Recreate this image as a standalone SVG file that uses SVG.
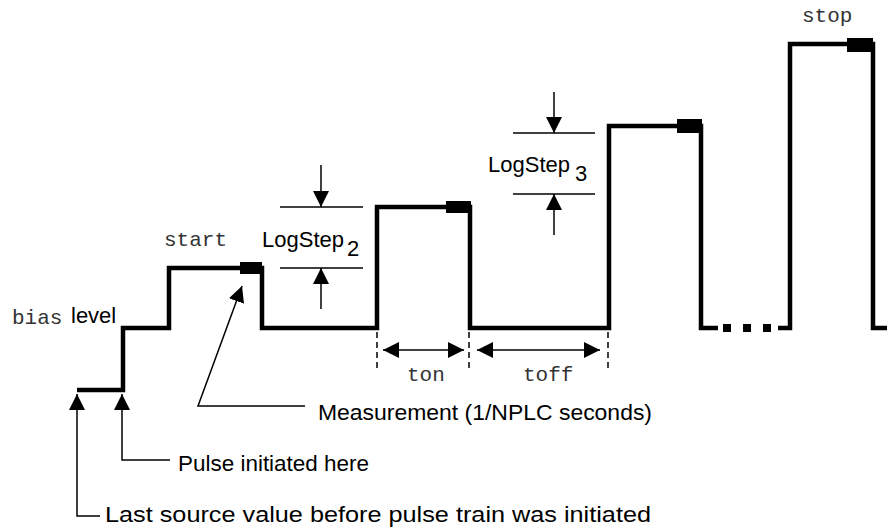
<svg xmlns="http://www.w3.org/2000/svg" width="887" height="531" viewBox="0 0 887 531">
<style>
.wave{fill:none;stroke:#000;stroke-width:4.5;stroke-linejoin:miter;stroke-linecap:butt}
.thin{fill:none;stroke:#000;stroke-width:1.5}
.dash{fill:none;stroke:#000;stroke-width:1.5;stroke-dasharray:6 4}
.blk{fill:#000}
.sans{font-family:"Liberation Sans",Arial,sans-serif;font-size:22px;fill:#000}
.mono{font-family:"Liberation Mono","Courier New",monospace;font-size:21px;fill:#333}
</style>
<defs>
<marker id="ah" viewBox="0 0 16 16" refX="16" refY="8" markerWidth="16" markerHeight="16" markerUnits="userSpaceOnUse" orient="auto-start-reverse">
<path d="M0,0 L16,8 L0,16 z" fill="#000"/>
</marker>
</defs>
<rect width="887" height="531" fill="#fff"/>
<g id="waveform">
<path class="wave" d="M77,390 H123 V328 H169 V268 H262 V328 H377 V207 H470 V328 H609 V126 H701 V328 H718"/>
<rect class="blk" x="723" y="324" width="8" height="8"/>
<rect class="blk" x="743" y="324" width="8" height="8"/>
<rect class="blk" x="763" y="324" width="8" height="8"/>
<path class="wave" d="M778,328 H790 V44 H873 V328 H887"/>
<rect class="blk" x="240" y="262" width="22" height="12"/>
<rect class="blk" x="446" y="201" width="25" height="12"/>
<rect class="blk" x="677" y="119" width="25" height="14"/>
<rect class="blk" x="847" y="38" width="26" height="14"/>
</g>
<g id="connectors">
<line class="thin" x1="321" y1="165" x2="321" y2="207" marker-end="url(#ah)"/>
<line class="thin" x1="321" y1="309" x2="321" y2="268" marker-end="url(#ah)"/>
<line class="thin" x1="280" y1="207" x2="363" y2="207"/>
<line class="thin" x1="280" y1="268" x2="363" y2="268"/>
<line class="thin" x1="554" y1="92" x2="554" y2="133" marker-end="url(#ah)"/>
<line class="thin" x1="554" y1="235" x2="554" y2="194" marker-end="url(#ah)"/>
<line class="thin" x1="513" y1="133" x2="595" y2="133"/>
<line class="thin" x1="513" y1="194" x2="595" y2="194"/>
<line class="dash" x1="377" y1="332" x2="377" y2="372"/>
<line class="dash" x1="469" y1="332" x2="469" y2="372"/>
<line class="dash" x1="608" y1="332" x2="608" y2="372"/>
<line class="thin" x1="383" y1="350" x2="464" y2="350" marker-start="url(#ah)" marker-end="url(#ah)"/>
<line class="thin" x1="477" y1="350" x2="600" y2="350" marker-start="url(#ah)" marker-end="url(#ah)"/>
<polyline class="thin" points="305,406 198,406 242,286" marker-end="url(#ah)"/>
<polyline class="thin" points="170,460 122,460 122,394" marker-end="url(#ah)"/>
<polyline class="thin" points="100,516 77,516 77,394" marker-end="url(#ah)"/>
</g>
<g id="label-bias"><text class="mono" x="12" y="324">bias</text><text class="sans" x="71" y="323">level</text></g>
<g id="label-start"><text class="mono" x="164" y="246">start</text></g>
<g id="label-stop"><text class="mono" x="802" y="22">stop</text></g>
<g id="label-logstep2"><text class="sans" x="262" y="247">LogStep</text><text class="sans" x="347" y="256">2</text></g>
<g id="label-logstep3"><text class="sans" x="488" y="172">LogStep</text><text class="sans" x="575" y="181">3</text></g>
<g id="label-ton"><text class="mono" x="407" y="381">ton</text></g>
<g id="label-toff"><text class="mono" x="523" y="381">toff</text></g>
<g id="label-measurement"><text class="sans" x="318" y="420" textLength="334" lengthAdjust="spacingAndGlyphs">Measurement (1/NPLC seconds)</text></g>
<g id="label-pulse"><text class="sans" x="178" y="471" textLength="191" lengthAdjust="spacingAndGlyphs">Pulse initiated here</text></g>
<g id="label-last"><text class="sans" x="105" y="522" textLength="546" lengthAdjust="spacingAndGlyphs">Last source value before pulse train was initiated</text></g>
</svg>
